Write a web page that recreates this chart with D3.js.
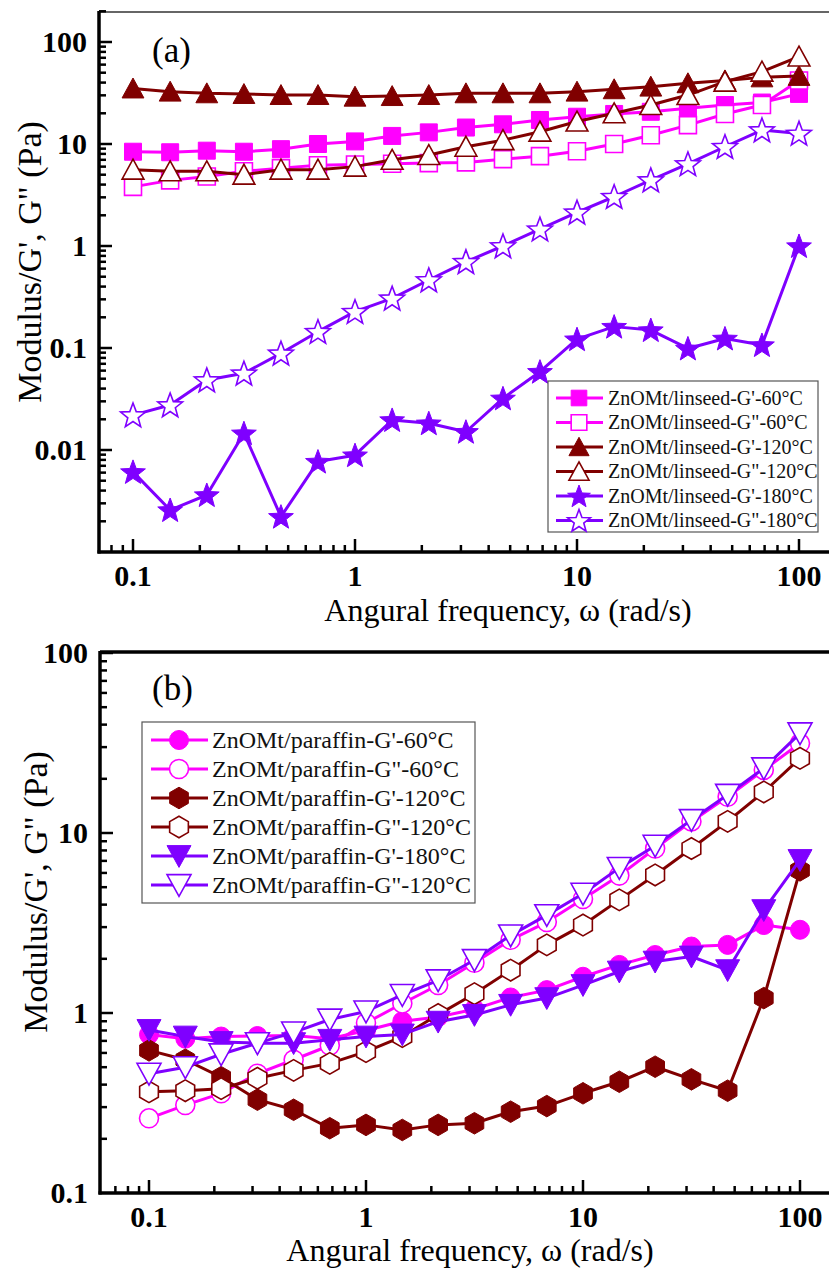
<!DOCTYPE html>
<html><head><meta charset="utf-8">
<script src="https://cdn.jsdelivr.net/npm/d3@7"></script>
<style>body{margin:0;background:#fff} svg{display:block} text{font-family:"Liberation Serif","Times New Roman",serif}</style>
</head><body>
<svg id="c" width="829" height="1269"></svg>
<script>
// ---------- data ----------
const freq = [0.1,0.147,0.215,0.316,0.464,0.681,1,1.47,2.15,3.16,4.64,6.81,10,14.7,21.5,31.6,46.4,68.1,100];

// panel (a) linseed
const linGp60  = [8.4,8.3,8.6,8.4,8.9,10.0,10.6,12.0,13.0,14.5,15.6,17.2,18.5,19.7,20.7,22.4,24.1,25.5,31];
const linGpp60 = [3.8,4.4,4.8,5.4,5.8,6.2,6.3,6.4,6.5,6.6,7.1,7.6,8.5,10.0,12.2,15.3,19.7,24.1,42];
const linGp120 = [35,32.6,31.4,30.9,30.2,30.2,29.1,29.5,30.2,31.4,31.4,31.4,32.6,34.4,36.5,39.4,42,45,46.5];
const linGpp120= [5.6,5.4,5.4,5.0,5.6,5.6,6.0,7.0,7.8,9.4,10.9,13.2,16.6,20,24.1,30.2,40.8,51.2,72];
const linGp180 = [0.0061,0.00258,0.00362,0.0146,0.00222,0.0077,0.0089,0.0197,0.0183,0.0151,0.0321,0.0586,0.122,0.162,0.15,0.099,0.124,0.107,1.0];
const linGpp180= [0.022,0.0276,0.0485,0.0565,0.0887,0.1445,0.227,0.307,0.464,0.70,1.0,1.46,2.14,3.04,4.43,6.37,9.4,13.7,12.7];

// panel (b) paraffin
const parGp60  = [0.76,0.72,0.74,0.745,0.75,0.72,0.8,0.9,0.95,1.05,1.22,1.34,1.59,1.85,2.1,2.34,2.39,3.08,2.9];
const parGpp60 = [0.26,0.308,0.358,0.46,0.55,0.66,0.88,1.13,1.43,1.9,2.55,3.2,4.3,5.8,8.2,11.6,15.9,22.4,31.5];
const parGp120 = [0.62,0.55,0.44,0.33,0.29,0.229,0.239,0.224,0.239,0.244,0.283,0.304,0.358,0.415,0.503,0.428,0.37,1.21,6.2];
const parGpp120= [0.365,0.37,0.38,0.434,0.48,0.525,0.61,0.74,0.98,1.28,1.73,2.39,3.08,4.25,5.85,8.2,11.6,16.9,26];
const parGp180 = [0.805,0.74,0.69,0.68,0.68,0.71,0.74,0.76,0.895,0.975,1.11,1.21,1.43,1.7,1.93,2.06,1.73,3.73,7.08];
const parGpp180= [0.46,0.5,0.59,0.68,0.78,0.92,1.02,1.26,1.52,1.97,2.7,3.5,4.6,6.4,8.5,11.8,16.3,22.9,35.8];

const labelsA = ["ZnOMt/linseed-G'-60\u00B0C","ZnOMt/linseed-G\"-60\u00B0C","ZnOMt/linseed-G'-120\u00B0C",
                 "ZnOMt/linseed-G\"-120\u00B0C","ZnOMt/linseed-G'-180\u00B0C","ZnOMt/linseed-G\"-180\u00B0C"];
const labelsB = ["ZnOMt/paraffin-G'-60\u00B0C","ZnOMt/paraffin-G\"-60\u00B0C","ZnOMt/paraffin-G'-120\u00B0C",
                 "ZnOMt/paraffin-G\"-120\u00B0C","ZnOMt/paraffin-G'-180\u00B0C","ZnOMt/paraffin-G\"-120\u00B0C"];
const xTickLabels = [0.1,1,10,100];
const yTickLabelsA = [0.01,0.1,1,10,100];
const yTickLabelsB = [0.1,1,10,100];

// ---------- styling ----------
const MAG = "#FF00FF", RED = "#800000", VIO = "#7F00FF";
const svg = d3.select("#c");

function polygon(pts){ return "M" + pts.map(p=>p[0].toFixed(2)+","+p[1].toFixed(2)).join("L") + "Z"; }
function shapePath(shape, s){
  const h = s/2;
  switch(shape){
    case "square": return polygon([[-h,-h],[h,-h],[h,h],[-h,h]]);
    case "triUp": { const w = s*1.15, ht = w*0.866; return polygon([[0,-ht/2-1],[w/2,ht/2],[-w/2,ht/2]]); }
    case "triDown": { const w = s*1.2, ht = w*0.866; return polygon([[-w/2,-ht/2],[w/2,-ht/2],[0,ht/2+1]]); }
    case "star": { const pts=[]; const R=s*0.62, r=R*0.42; for(let i=0;i<10;i++){const a=-Math.PI/2+i*Math.PI/5; const rr=i%2?r:R; pts.push([rr*Math.cos(a), rr*Math.sin(a)+1]);} return polygon(pts); }
    case "circle": return d3.arc()({innerRadius:0,outerRadius:h,startAngle:0,endAngle:2*Math.PI});
    case "hex": { const pts=[]; const R=h*1.08; for(let i=0;i<6;i++){const a=-Math.PI/2+i*Math.PI/3; pts.push([R*Math.cos(a),R*Math.sin(a)]);} return polygon(pts); }
  }
}

function drawPanel(cfg){
  const g = svg.append("g");
  const x = cfg.x, y = cfg.y;
  const [L,R] = [cfg.left, cfg.right], [T,B] = [cfg.top, cfg.bottom];
  // series
  cfg.series.forEach(s=>{
    const line = d3.line().x((d,i)=>x(freq[i])).y(d=>y(d));
    g.append("path").attr("d", line(s.values)).attr("fill","none")
      .attr("stroke", s.color).attr("stroke-width", s.lw||3).attr("stroke-linejoin","round");
    g.selectAll(null).data(s.values).enter().append("path")
      .attr("d", shapePath(s.shape, s.size))
      .attr("transform",(d,i)=>`translate(${x(freq[i])},${y(d)})`)
      .attr("fill", s.filled ? s.color : "#fff")
      .attr("stroke", s.color).attr("stroke-width", s.filled?1:1.6);
  });
  // axes frame
  g.append("line").attr("x1",L).attr("x2",R).attr("y1",T).attr("y2",T)
    .attr("stroke",cfg.topColor).attr("stroke-width",cfg.topW);
  g.append("line").attr("x1",L).attr("x2",L).attr("y1",T-1).attr("y2",B+1.5).attr("stroke","#000").attr("stroke-width",3.5);
  g.append("line").attr("x1",L-1.5).attr("x2",R).attr("y1",B).attr("y2",B).attr("stroke","#000").attr("stroke-width",3.5);
  // minor/major ticks
  const xt=[], yt=[];
  for(let e=-3;e<=2;e++) for(let m=1;m<=9;m++){ const v=m*Math.pow(10,e); xt.push(v); yt.push(v); }
  xt.filter(v=>{const p=x(v); return p>L+4 && p<R;}).forEach(v=>{
    const major = Math.abs(Math.log10(v)-Math.round(Math.log10(v)))<1e-9;
    g.append("line").attr("x1",x(v)).attr("x2",x(v)).attr("y1",B).attr("y2",B-(major?13:7)).attr("stroke","#000").attr("stroke-width",2.5);
  });
  yt.filter(v=>{const p=y(v); return p<B-4 && p>=T-1;}).forEach(v=>{
    const major = Math.abs(Math.log10(v)-Math.round(Math.log10(v)))<1e-9;
    g.append("line").attr("x1",L).attr("x2",L+(major?13:7)).attr("y1",y(v)).attr("y2",y(v)).attr("stroke","#000").attr("stroke-width",2.5);
  });
  // tick labels
  xTickLabels.forEach(v=>{
    g.append("text").attr("x",x(v)).attr("y",B+34).attr("text-anchor","middle")
      .attr("font-size",30).attr("font-weight","bold").text(v);
  });
  cfg.yLabels.forEach(v=>{
    g.append("text").attr("x",L-12).attr("y",y(v)+10).attr("text-anchor","end")
      .attr("font-size",30).attr("font-weight","bold").text(v);
  });
  // titles
  g.append("text").attr("x",cfg.xtX).attr("y",cfg.xtY).attr("text-anchor","middle").attr("font-size",32)
    .text("Angural frequency, \u03C9 (rad/s)");
  g.append("text").attr("transform",`translate(${cfg.ytX},${cfg.ytY}) rotate(-90)`).attr("text-anchor","middle").attr("font-size",34)
    .text("Modulus/G', G\" (Pa)");
  g.append("text").attr("x",152).attr("y",cfg.tagY).attr("font-size",35).text(cfg.tag);
  // legend
  const lg = cfg.legend;
  g.append("rect").attr("x",lg.x).attr("y",lg.y).attr("width",lg.w).attr("height",lg.h)
    .attr("fill","#fff").attr("stroke","#555").attr("stroke-width",1.2);
  cfg.series.forEach((s,i)=>{
    const cy = lg.row0 + i*lg.dy;
    g.append("line").attr("x1",lg.l1).attr("x2",lg.l2).attr("y1",cy).attr("y2",cy).attr("stroke",s.color).attr("stroke-width",3);
    g.append("path").attr("d",shapePath(s.shape,s.size*lg.ms)).attr("transform",`translate(${lg.mx},${cy})`)
      .attr("fill", s.filled ? s.color : "#fff").attr("stroke",s.color).attr("stroke-width",s.filled?1:1.6);
    g.append("text").attr("x",lg.tx).attr("y",cy+lg.fs*0.33).attr("font-size",lg.fs).attr("fill","#111").text(cfg.labels[i]);
  });
}

// panel (a)
const xA = d3.scaleLog().domain([0.1,100]).range([133,799]);
const yA = d3.scaleLog().domain([0.001,100]).range([552,42]);
drawPanel({
  x:xA, y:yA, left:99, right:829, top:12, bottom:552, topColor:"#333", topW:1.5,
  yLabels:yTickLabelsA, xtX:508, xtY:621, ytX:41, ytY:262, tag:"(a)", tagY:62,
  labels:labelsA,
  series:[
    {values:linGp60,  color:MAG, shape:"square", filled:true,  size:17},
    {values:linGpp60, color:MAG, shape:"square", filled:false, size:17},
    {values:linGp120, color:RED, shape:"triUp",  filled:true,  size:19},
    {values:linGpp120,color:RED, shape:"triUp",  filled:false, size:19},
    {values:linGp180, color:VIO, shape:"star",   filled:true,  size:21},
    {values:linGpp180,color:VIO, shape:"star",   filled:false, size:21}
  ],
  legend:{x:548,y:381,w:270,h:151,row0:398,dy:24.5,l1:556,l2:603,mx:579,tx:608,fs:20,ms:0.92}
});

// panel (b)
const xB = d3.scaleLog().domain([0.1,100]).range([149,800]);
const yB = d3.scaleLog().domain([0.1,100]).range([1193,653]);
drawPanel({
  x:xB, y:yB, left:100, right:829, top:652, bottom:1193, topColor:"#000", topW:3.5,
  yLabels:yTickLabelsB, xtX:470, xtY:1261, ytX:47, ytY:892, tag:"(b)", tagY:700,
  labels:labelsB,
  series:[
    {values:parGp60,  color:MAG, shape:"circle", filled:true,  size:19},
    {values:parGpp60, color:MAG, shape:"circle", filled:false, size:19},
    {values:parGp120, color:RED, shape:"hex",    filled:true,  size:20},
    {values:parGpp120,color:RED, shape:"hex",    filled:false, size:20},
    {values:parGp180, color:VIO, shape:"triDown",filled:true,  size:20},
    {values:parGpp180,color:VIO, shape:"triDown",filled:false, size:20}
  ],
  legend:{x:142,y:722,w:333,h:181,row0:740,dy:29,l1:151,l2:208,mx:179,tx:212,fs:24,ms:1.0}
});
</script>
</body></html>
